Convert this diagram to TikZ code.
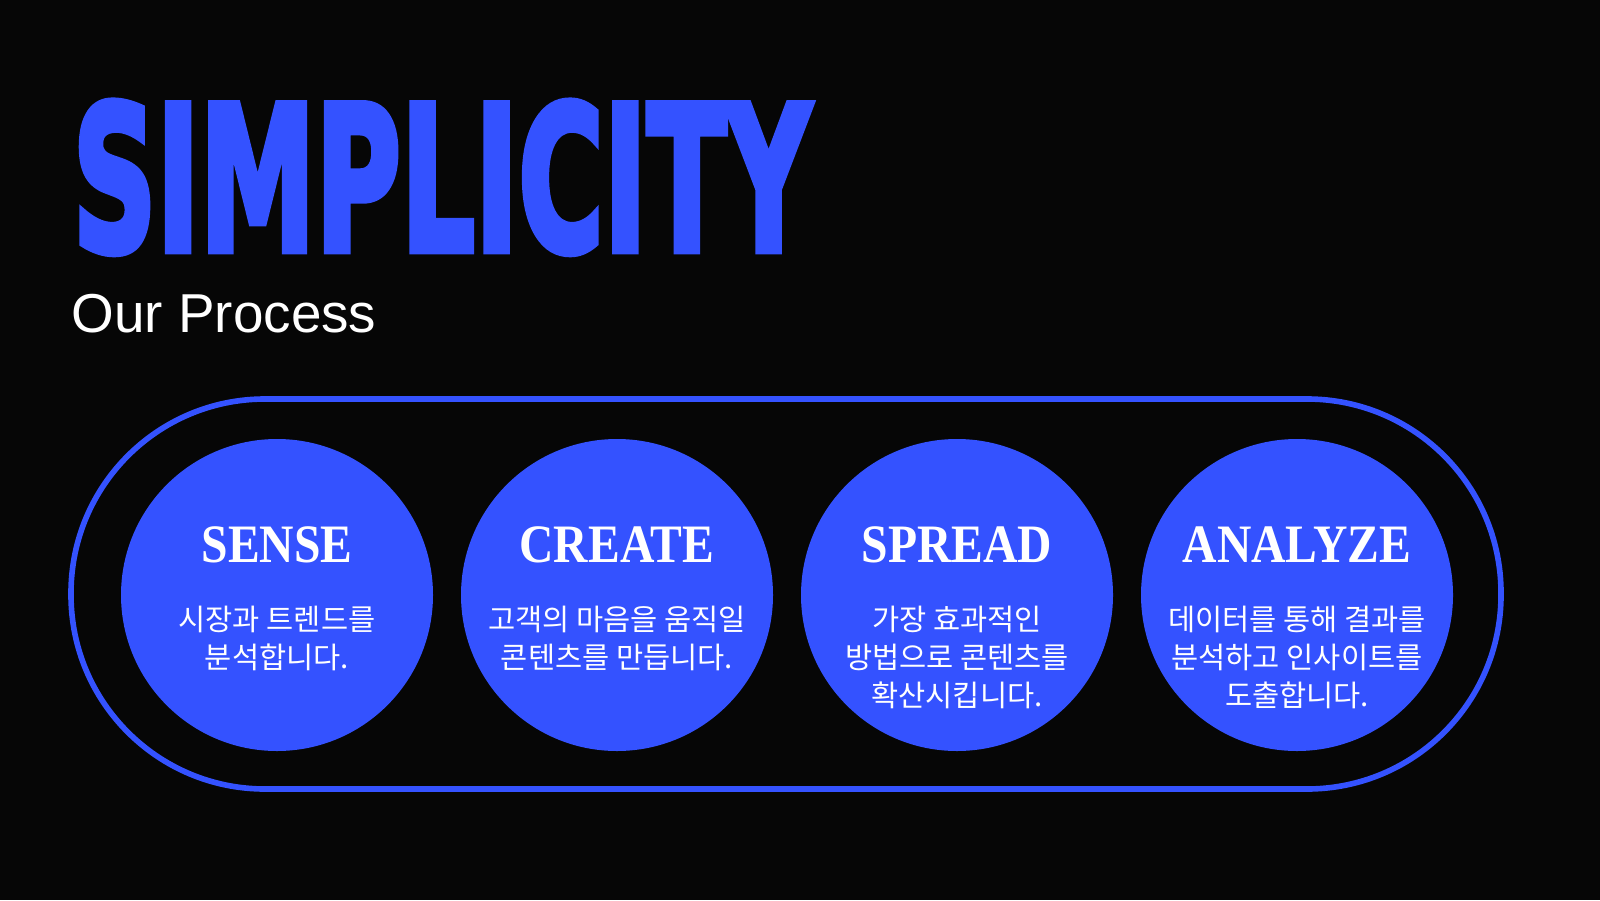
\documentclass[tikz,border=0pt]{standalone}
\usepackage{fontspec}
\setmainfont{Liberation Serif}
\newfontfamily\headfont[BoldFeatures={FakeBold=4}]{DejaVu Sans}
\newfontfamily\subfont{Liberation Sans}
\newfontfamily\krfont{Noto Sans CJK KR}
\definecolor{procblue}{HTML}{3452FF}
\definecolor{bgblack}{HTML}{060606}

\newcommand{\stagename}[1]{\scalebox{0.88}[1]{#1}}

\tikzset{
	stagecircle/.style={circle, fill=procblue, minimum size=3.12cm, inner sep=0pt},
	stagetitle/.style={text=white, inner sep=0pt, font=\bfseries\fontsize{15.4}{17}\selectfont},
	stagetext/.style={text=white, inner sep=0pt, anchor=north, align=center,
		font=\krfont\fontsize{8.4}{10.9}\selectfont},
}

\begin{document}
\begin{tikzpicture}
		\fill[bgblack] (0,0) rectangle (16,9);
		\useasboundingbox (0,0) rectangle (16,9);
		% heading
		\node (title) at (0.72,6.46) [anchor=south west, inner sep=0pt, text=procblue]
			{\resizebox{7.38cm}{1.49cm}{\headfont\bfseries SIMPLICITY}};
		\node (sub) at (0.71,5.68) [anchor=base west, inner sep=0pt, text=white,
			font=\subfont\fontsize{15.6}{18}\selectfont] {Our Process};
		% outline
		\draw[procblue, line width=1.6pt, rounded corners=1.94cm] (0.71,5.01) rectangle (15.01,1.11);
		% stages
		\node (sense) at (2.77,3.05) [stagecircle] {};
		\node (create) at (6.17,3.05) [stagecircle] {};
		\node (spread) at (9.57,3.05) [stagecircle] {};
		\node (analyze) at (12.97,3.05) [stagecircle] {};
		\node (senseT) at (2.77,3.55) [stagetitle] {\stagename{SENSE}};
		\node (createT) at (6.17,3.55) [stagetitle] {\stagename{CREATE}};
		\node (spreadT) at (9.57,3.55) [stagetitle] {\stagename{SPREAD}};
		\node (analyzeT) at (12.97,3.55) [stagetitle] {\stagename{ANALYZE}};
		\node (senseD) at (2.77,2.95) [stagetext] {시장과 트렌드를\\분석합니다.};
		\node (createD) at (6.17,2.95) [stagetext] {고객의 마음을 움직일\\콘텐츠를 만듭니다.};
		\node (spreadD) at (9.57,2.95) [stagetext] {가장 효과적인\\방법으로 콘텐츠를\\확산시킵니다.};
		\node (analyzeD) at (12.97,2.95) [stagetext] {데이터를 통해 결과를\\분석하고 인사이트를\\도출합니다.};
	\end{tikzpicture}
\end{document}
